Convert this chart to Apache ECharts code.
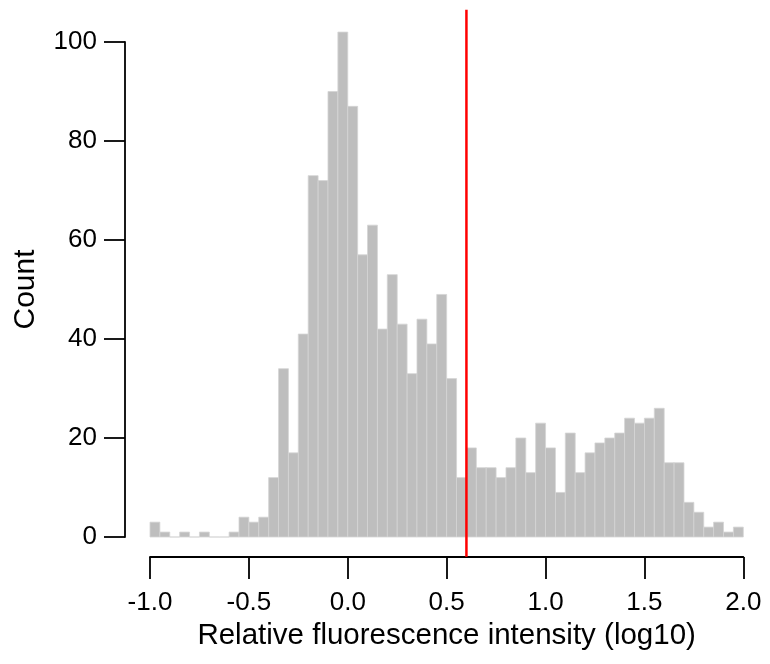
<!DOCTYPE html>
<html>
<head>
<meta charset="utf-8">
<script src="https://cdn.jsdelivr.net/npm/echarts@6/dist/echarts.min.js"></script>
<style>
html,body{margin:0;padding:0;background:#fff;}
#chart{width:770px;height:664px;}
</style>
</head>
<body>
<div id="chart"></div>
<script>
// Histogram bins (left edge of each bin, width 0.05)
var binWidth = 0.05;
var binStarts = [
  -1.00,-0.95,-0.90,-0.85,-0.80,-0.75,-0.70,-0.65,-0.60,-0.55,
  -0.50,-0.45,-0.40,-0.35,-0.30,-0.25,-0.20,-0.15,-0.10,-0.05,
   0.00, 0.05, 0.10, 0.15, 0.20, 0.25, 0.30, 0.35, 0.40, 0.45,
   0.50, 0.55, 0.60, 0.65, 0.70, 0.75, 0.80, 0.85, 0.90, 0.95,
   1.00, 1.05, 1.10, 1.15, 1.20, 1.25, 1.30, 1.35, 1.40, 1.45,
   1.50, 1.55, 1.60, 1.65, 1.70, 1.75, 1.80, 1.85, 1.90, 1.95
];
var counts = [
  3, 1, 0, 1, 0, 1, 0, 0, 1, 4,
  3, 4, 12, 34, 17, 41, 73, 72, 90, 102,
  87, 57, 63, 42, 53, 43, 33, 44, 39, 49,
  32, 12, 18, 14, 14, 12, 14, 20, 13, 23,
  18, 9, 21, 13, 17, 19, 20, 21, 24, 23,
  24, 26, 15, 15, 7, 5, 2, 3, 1, 2
];
var xTicks = [-1.0, -0.5, 0.0, 0.5, 1.0, 1.5, 2.0];
var yTicks = [0, 20, 40, 60, 80, 100];
var threshold = 0.6;
var thresholdSpan = [-4, 106.5];

var histData = binStarts.map(function (s, i) { return [s, s + binWidth, counts[i]]; });

var chart = echarts.init(document.getElementById('chart'), null, {renderer: 'canvas'});
var font = '"Liberation Sans", Arial, Helvetica, sans-serif';
var axisLineStyle = {color: '#000', width: 1.8};

chart.setOption({
  animation: false,
  backgroundColor: '#ffffff',
  grid: {left: 150, right: 26.7, top: 42, bottom: 127, containLabel: false},
  xAxis: {
    type: 'value',
    min: xTicks[0], max: xTicks[xTicks.length - 1], interval: 0.5,
    offset: 20,
    axisLine: {show: true, onZero: false, lineStyle: axisLineStyle},
    axisTick: {show: true, length: 22, lineStyle: axisLineStyle},
    splitLine: {show: false},
    axisLabel: {
      margin: 33, fontSize: 26, color: '#000', fontFamily: font,
      formatter: function (v) { return v.toFixed(1); }
    },
    name: 'Relative fluorescence intensity (log10)',
    nameLocation: 'middle', nameGap: 61,
    nameTextStyle: {fontSize: 29.5, color: '#000', fontFamily: font}
  },
  yAxis: {
    type: 'value',
    min: yTicks[0], max: yTicks[yTicks.length - 1], interval: 20,
    offset: 25,
    axisLine: {show: true, onZero: false, lineStyle: axisLineStyle},
    axisTick: {show: true, length: 21, lineStyle: axisLineStyle},
    splitLine: {show: false},
    axisLabel: {margin: 28, fontSize: 26, color: '#000', fontFamily: font},
    name: 'Count',
    nameLocation: 'middle', nameGap: 84, nameRotate: 90,
    nameTextStyle: {fontSize: 30, color: '#000', fontFamily: font}
  },
  series: [
    {
      type: 'custom',
      data: histData,
      encode: {x: [0, 1], y: 2},
      renderItem: function (params, api) {
        var p0 = api.coord([api.value(0), api.value(2)]);
        var p1 = api.coord([api.value(1), 0]);
        return {
          type: 'rect',
          shape: {x: p0[0], y: p0[1], width: p1[0] - p0[0], height: p1[1] - p0[1]},
          style: {fill: '#bebebe', stroke: '#d4d4d4', lineWidth: 0.8}
        };
      },
      z: 2
    },
    {
      type: 'line',
      data: [[threshold, thresholdSpan[0]], [threshold, thresholdSpan[1]]],
      symbol: 'none',
      clip: false,
      lineStyle: {color: '#ff0000', width: 2.5},
      z: 5
    }
  ]
});
</script>
</body>
</html>
